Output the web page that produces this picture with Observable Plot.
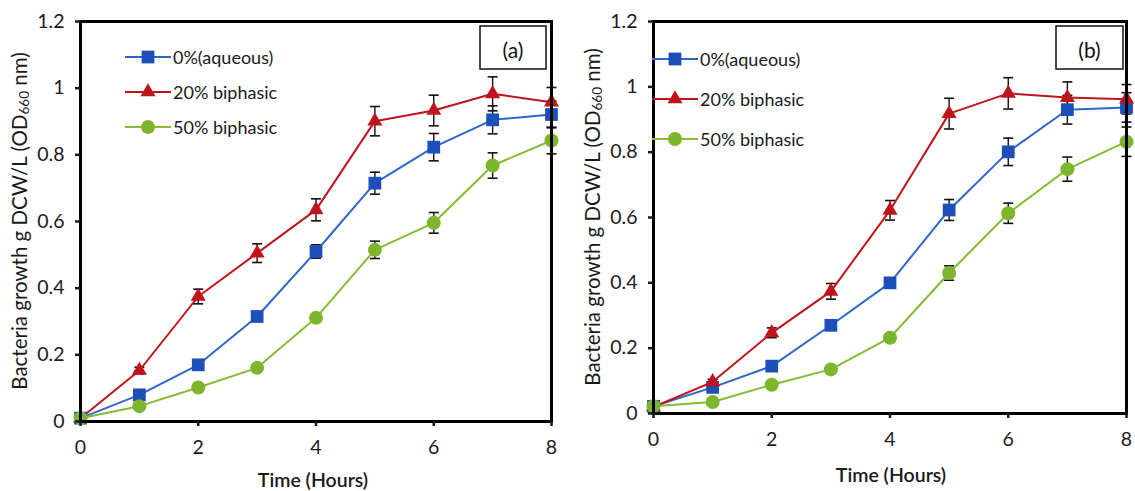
<!DOCTYPE html>
<html>
<head>
<meta charset="utf-8">
<script src="https://cdn.jsdelivr.net/npm/d3@7"></script>
<script src="https://cdn.jsdelivr.net/npm/@observablehq/plot@0.6"></script>
<style>
  html, body { margin: 0; padding: 0; background: #fff; }
  #wrap { position: relative; width: 1135px; height: 491px; overflow: hidden; font-family: Lato, "Open Sans", sans-serif; }
  #wrap svg { position: absolute; top: 0; font-family: Lato, "Open Sans", sans-serif; color: #1a1a1a; overflow: visible; }
</style>
</head>
<body>
<div id="wrap"></div>
<script>
// ---------------- data ----------------
const time = [0, 1, 2, 3, 4, 5, 6, 7, 8];
const seriesNames = ["0%(aqueous)", "20% biphasic", "50% biphasic"];
const seriesColors = ["#1d4fb8", "#c0141c", "#7db52c"];
const lineColors = ["#2f67c6", "#c0141c", "#86bb35"];
const seriesSymbols = ["square", "triangle", "circle"];
const xTicks = [0, 2, 4, 6, 8];
const yTicks = [0, 0.2, 0.4, 0.6, 0.8, 1, 1.2];
const xTitle = "Time (Hours)";
const yTitleMain = "Bacteria growth g DCW/L (OD";
const yTitleSub = "660";
const yTitleEnd = " nm)";

// panel (a)
const aAqueous = [0.01, 0.08, 0.17, 0.315, 0.51, 0.715, 0.823, 0.905, 0.921];
const a20 = [0.01, 0.153, 0.375, 0.505, 0.635, 0.901, 0.933, 0.983, 0.958];
const a50 = [0.01, 0.046, 0.102, 0.161, 0.311, 0.515, 0.596, 0.768, 0.843];
const aAqueousErr = [0.005, 0.008, 0.01, 0.012, 0.02, 0.033, 0.041, 0.042, 0.04];
const a20Err = [0.005, 0.01, 0.022, 0.028, 0.033, 0.044, 0.046, 0.051, 0.044];
const a50Err = [0.005, 0.006, 0.008, 0.008, 0.01, 0.026, 0.031, 0.038, 0.04];

// panel (b)
const bAqueous = [0.022, 0.08, 0.145, 0.27, 0.4, 0.623, 0.801, 0.93, 0.937];
const b20 = [0.02, 0.097, 0.247, 0.374, 0.622, 0.918, 0.98, 0.967, 0.962];
const b50 = [0.022, 0.035, 0.088, 0.135, 0.232, 0.43, 0.613, 0.748, 0.832];
const bAqueousErr = [0.005, 0.006, 0.008, 0.01, 0.012, 0.032, 0.042, 0.044, 0.045];
const b20Err = [0.005, 0.008, 0.015, 0.024, 0.03, 0.047, 0.048, 0.048, 0.045];
const b50Err = [0.004, 0.005, 0.006, 0.008, 0.01, 0.022, 0.031, 0.037, 0.045];

// ---------------- helpers ----------------
const capSymbol = {
  draw(ctx, size) {
    const w = Math.sqrt(size / Math.PI);
    ctx.moveTo(-w, 0);
    ctx.lineTo(w, 0);
  }
};
const markerR = {square: 7.2, triangle: 5.6, circle: 7};

function rows(vals, errs) {
  return time.map((t, i) => ({t, v: vals[i], e: errs[i]}));
}

function buildPanel(cfg) {
  const series = cfg.values.map((vals, k) => rows(vals, cfg.errors[k]));
  const marks = [];
  series.forEach((data, k) => {
    marks.push(Plot.ruleX(data, {x: "t", y1: d => d.v - d.e, y2: d => d.v + d.e, stroke: "#111", strokeWidth: 1.4}));
    marks.push(Plot.dot(data, {x: "t", y: d => d.v + d.e, symbol: capSymbol, r: 5, stroke: "#111", strokeWidth: 1.6}));
    marks.push(Plot.dot(data, {x: "t", y: d => d.v - d.e, symbol: capSymbol, r: 5, stroke: "#111", strokeWidth: 1.6}));
  });
  series.forEach((data, k) => {
    marks.push(Plot.line(data, {x: "t", y: "v", stroke: lineColors[k], strokeWidth: 2}));
  });
  series.forEach((data, k) => {
    marks.push(Plot.dot(data, {x: "t", y: "v", symbol: seriesSymbols[k], r: markerR[seriesSymbols[k]], fill: seriesColors[k], stroke: "none"}));
  });
  marks.push(Plot.frame({stroke: "#000", strokeWidth: 3}));
  marks.push(Plot.axisX(xTicks, {anchor: "bottom", tickSize: 5, tickPadding: 14, fontSize: 19.5, strokeWidth: 2.5, label: null, tickFormat: d => String(d)}));
  marks.push(Plot.axisY(yTicks, {anchor: "left", tickSize: 5, tickPadding: 11, fontSize: 19.5, strokeWidth: 2.5, label: null, tickFormat: d => String(d)}));

  const svgNode = Plot.plot({
    width: cfg.width,
    height: 491,
    marginLeft: cfg.mL,
    marginRight: cfg.mR,
    marginTop: cfg.mT,
    marginBottom: cfg.mB,
    x: {domain: [0, 8]},
    y: {domain: [0, 1.2]},
    marks
  });
  svgNode.style.left = cfg.left + "px";
  const svg = d3.select(svgNode);

  // y title
  const yt = svg.append("text")
    .attr("transform", `translate(${cfg.yTitleX},${cfg.yTitleY}) rotate(-90)`)
    .attr("text-anchor", "middle")
    .attr("dominant-baseline", "central")
    .attr("font-size", 20.5)
    .attr("fill", "#1a1a1a");
  yt.append("tspan").text(yTitleMain);
  yt.append("tspan").attr("font-size", 13.5).attr("dy", 4.5).text(yTitleSub);
  yt.append("tspan").attr("font-size", 20.5).attr("dy", -4.5).text(yTitleEnd);

  // x title
  svg.append("text")
    .attr("x", cfg.xTitleX).attr("y", cfg.xTitleY)
    .attr("text-anchor", "middle")
    .attr("dominant-baseline", "central")
    .attr("font-size", 19.5)
    .attr("font-weight", 600)
    .attr("fill", "#1a1a1a")
    .text(xTitle);

  // legend
  seriesNames.forEach((name, k) => {
    const y = cfg.legY[k];
    const g = svg.append("g");
    g.append("line")
      .attr("x1", cfg.legX).attr("x2", cfg.legX + 46)
      .attr("y1", y).attr("y2", y)
      .attr("stroke", lineColors[k]).attr("stroke-width", 2.2);
    const sym = {square: d3.symbolSquare, triangle: d3.symbolTriangle, circle: d3.symbolCircle}[seriesSymbols[k]];
    const r = markerR[seriesSymbols[k]];
    g.append("path")
      .attr("d", d3.symbol(sym, Math.PI * r * r)())
      .attr("transform", `translate(${cfg.legX + 23},${y})`)
      .attr("fill", seriesColors[k]);
    g.append("text")
      .attr("x", cfg.legX + 48).attr("y", y)
      .attr("text-anchor", "start")
      .attr("dominant-baseline", "central")
      .attr("font-size", 18)
      .attr("fill", "#1a1a1a")
      .text(name);
  });

  // panel label box
  svg.append("rect")
    .attr("x", cfg.box[0]).attr("y", cfg.box[1])
    .attr("width", cfg.box[2]).attr("height", cfg.box[3])
    .attr("fill", "#fff").attr("stroke", "#111").attr("stroke-width", 1.5);
  svg.append("text")
    .attr("x", cfg.box[0] + cfg.box[2] / 2).attr("y", cfg.box[1] + cfg.box[3] / 2 + 2)
    .attr("text-anchor", "middle").attr("dominant-baseline", "central")
    .attr("font-size", 21).attr("fill", "#111")
    .text(cfg.label);

  document.getElementById("wrap").appendChild(svgNode);
}

buildPanel({
  label: "(a)",
  left: 0, width: 565, mL: 80, mR: 14, mT: 21, mB: 70,
  values: [aAqueous, a20, a50],
  errors: [aAqueousErr, a20Err, a50Err],
  yTitleX: 19, yTitleY: 221,
  xTitleX: 313, xTitleY: 479,
  legX: 125, legY: [57, 92, 127],
  box: [480, 26, 66, 43]
});

buildPanel({
  label: "(b)",
  left: 565, width: 570, mL: 88, mR: 9, mT: 21, mB: 78,
  values: [bAqueous, b20, b50],
  errors: [bAqueousErr, b20Err, b50Err],
  yTitleX: 27, yTitleY: 217,
  xTitleX: 326, xTitleY: 474,
  legX: 87, legY: [59, 99, 139],
  box: [491, 26, 67, 43]
});
</script>
</body>
</html>
